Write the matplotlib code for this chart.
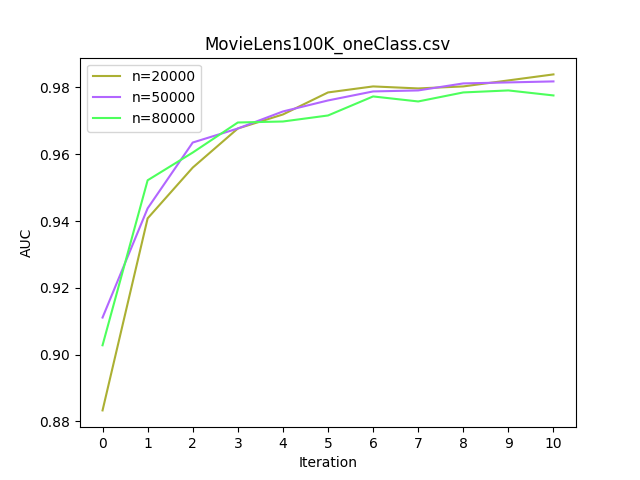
import matplotlib
matplotlib.use("Agg")
import matplotlib.pyplot as plt

iterations = list(range(11))
auc_20000 = [0.8833, 0.9408, 0.9560, 0.9677, 0.9719, 0.9785, 0.9803, 0.9797, 0.9803, 0.9821, 0.9839]
auc_50000 = [0.9111, 0.9438, 0.9635, 0.9677, 0.9728, 0.9761, 0.9788, 0.9791, 0.9812, 0.9815, 0.9818]
auc_80000 = [0.9028, 0.9522, 0.9605, 0.9695, 0.9698, 0.9716, 0.9773, 0.9758, 0.9785, 0.9791, 0.9776]

fig, ax = plt.subplots(figsize=(6.4, 4.8), dpi=100)
ax.plot(iterations, auc_20000, color="#abb033", label="n=20000")
ax.plot(iterations, auc_50000, color="#b266ff", label="n=50000")
ax.plot(iterations, auc_80000, color="#4dff5c", label="n=80000")
ax.set_xticks(iterations)
ax.set_xlabel("Iteration")
ax.set_ylabel("AUC")
ax.set_title("MovieLens100K_oneClass.csv")
ax.legend(loc="upper left")
fig.savefig("out.png")
